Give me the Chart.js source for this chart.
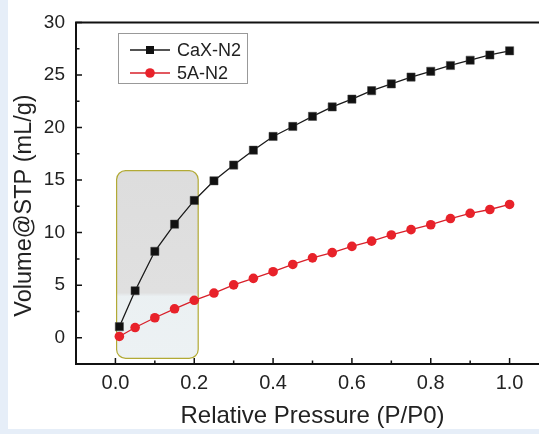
<!DOCTYPE html>
<html>
<head>
<meta charset="utf-8">
<script src="https://cdn.jsdelivr.net/npm/chart.js@4.4.1/dist/chart.umd.min.js"></script>
<style>
    html, body { margin: 0; padding: 0; overflow: hidden; background: #e6eef8; }
    #wrap { position: absolute; left: 8px; top: 0; right: 0; height: 429px; background: #ffffff; overflow: hidden; }
    #c { position: absolute; left: -8px; top: 0; }
</style>
</head>
<body>
<div id="wrap"><canvas id="c" width="560" height="434"></canvas></div>
<script>
const pressure = [0.01, 0.05, 0.10, 0.15, 0.20, 0.25, 0.30, 0.35, 0.40, 0.45, 0.50,
    0.55, 0.60, 0.65, 0.70, 0.75, 0.80, 0.85, 0.90, 0.95, 1.00];
const caxN2 = [1.05, 4.47, 8.22, 10.8, 13.06, 14.93, 16.43, 17.84, 19.15, 20.1, 21.06,
    21.96, 22.7, 23.5, 24.15, 24.8, 25.35, 25.9, 26.4, 26.9, 27.3];
const a5N2 = [0.12, 0.97, 1.9, 2.75, 3.56, 4.25, 5.03, 5.65, 6.28, 6.97, 7.6,
    8.1, 8.69, 9.19, 9.78, 10.28, 10.75, 11.34, 11.84, 12.2, 12.68];
const xTicks = [0.0, 0.2, 0.4, 0.6, 0.8, 1.0];
const yTicks = [0, 5, 10, 15, 20, 25, 30];
const xMinor = [0.1, 0.3, 0.5, 0.7, 0.9];
const yMinor = [2.5, 7.5, 12.5, 17.5, 22.5, 27.5];
// highlighted low-pressure region: [x0, x1, y0, y1]
const highlight = [0.003, 0.21, -1.97, 15.9];
const yTitle = 'Volume@STP (mL/g)';

const FONT = "'Liberation Sans', Arial, sans-serif";

const decorPlugin = {
    id: 'decor',
    beforeDatasetsDraw(chart) {
        const { ctx, scales: { x, y } } = chart;
        const x0 = x.getPixelForValue(highlight[0]);
        const x1 = x.getPixelForValue(highlight[1]);
        const y0 = y.getPixelForValue(highlight[3]);
        const y1 = y.getPixelForValue(highlight[2]);
        ctx.save();
        const g = ctx.createLinearGradient(0, y0, 0, y1);
        g.addColorStop(0, 'rgba(200,200,200,0.62)');
        g.addColorStop(0.65, 'rgba(205,205,205,0.62)');
        g.addColorStop(0.67, 'rgba(215,226,230,0.5)');
        g.addColorStop(1, 'rgba(218,228,232,0.5)');
        ctx.fillStyle = g;
        ctx.strokeStyle = '#b2aa35';
        ctx.lineWidth = 1.2;
        ctx.beginPath();
        ctx.roundRect(x0, y0, x1 - x0, y1 - y0, 9);
        ctx.fill();
        ctx.stroke();
        ctx.restore();
    },
    afterDraw(chart) {
        const { ctx, chartArea: a, scales: { x, y } } = chart;
        ctx.save();
        ctx.strokeStyle = '#111';
        // frame (right side falls outside the picture)
        ctx.lineWidth = 2;
        ctx.beginPath();
        ctx.moveTo(chart.width, a.top);
        ctx.lineTo(a.left, a.top);
        ctx.lineTo(a.left, a.bottom);
        ctx.lineTo(chart.width, a.bottom);
        ctx.stroke();
        // inward ticks
        ctx.lineWidth = 1.5;
        ctx.beginPath();
        xTicks.forEach(v => { const p = x.getPixelForValue(v); ctx.moveTo(p, a.bottom); ctx.lineTo(p, a.bottom - 6); });
        xMinor.forEach(v => { const p = x.getPixelForValue(v); ctx.moveTo(p, a.bottom); ctx.lineTo(p, a.bottom - 3.5); });
        yTicks.forEach(v => { const p = y.getPixelForValue(v); ctx.moveTo(a.left, p); ctx.lineTo(a.left + 6, p); });
        yMinor.forEach(v => { const p = y.getPixelForValue(v); ctx.moveTo(a.left, p); ctx.lineTo(a.left + 3.5, p); });
        ctx.stroke();

        // y axis title, sits a bit below the axis centre like the original
        ctx.save();
        ctx.translate(25, 205.5);
        ctx.rotate(-Math.PI / 2);
        ctx.fillStyle = '#222';
        ctx.font = '23.5px ' + FONT;
        ctx.textAlign = 'center';
        ctx.textBaseline = 'middle';
        ctx.fillText(yTitle, 0, 0);
        ctx.restore();

        // legend box
        const lx = 118, ly = 33, lw = 129, lh = 50;
        ctx.fillStyle = '#fff';
        ctx.strokeStyle = '#999';
        ctx.lineWidth = 1;
        ctx.fillRect(lx, ly, lw, lh);
        ctx.strokeRect(lx + 0.5, ly + 0.5, lw, lh);
        ctx.font = '18px ' + FONT;
        ctx.textBaseline = 'middle';
        chart.data.datasets.forEach((ds, i) => {
            const yy = ly + 17 + i * 23;
            ctx.strokeStyle = ds.borderColor;
            ctx.lineWidth = 1.3;
            ctx.beginPath();
            ctx.moveTo(lx + 12, yy);
            ctx.lineTo(lx + 52, yy);
            ctx.stroke();
            ctx.fillStyle = ds.pointBackgroundColor;
            if (ds.pointStyle === 'rect') {
                ctx.fillRect(lx + 28, yy - 4, 8, 8);
            } else {
                ctx.beginPath();
                ctx.arc(lx + 32, yy, 4.8, 0, Math.PI * 2);
                ctx.fill();
            }
            ctx.fillStyle = '#222';
            ctx.fillText(ds.label, lx + 59, yy + 1);
        });
        ctx.restore();
    }
};

function initChart() {
    const ctx = document.getElementById('c').getContext('2d');
    new Chart(ctx, {
        type: 'line',
        data: {
            datasets: [{
                label: 'CaX-N2',
                data: pressure.map((p, i) => ({ x: p, y: caxN2[i] })),
                borderColor: '#1a1a1a',
                backgroundColor: '#111',
                pointBackgroundColor: '#111',
                pointBorderColor: '#444',
                pointBorderWidth: 0.5,
                pointStyle: 'rect',
                pointRadius: 5.8,
                borderWidth: 1.3,
                tension: 0
            }, {
                label: '5A-N2',
                data: pressure.map((p, i) => ({ x: p, y: a5N2[i] })),
                borderColor: '#d8202a',
                backgroundColor: '#e8222a',
                pointBackgroundColor: '#e8222a',
                pointBorderColor: '#e8222a',
                pointBorderWidth: 0,
                pointStyle: 'circle',
                pointRadius: 4.8,
                borderWidth: 1.3,
                tension: 0
            }]
        },
        options: {
            responsive: false,
            animation: false,
            layout: { padding: { left: 0, right: 11, top: 17, bottom: 0 } },
            plugins: { legend: { display: false }, tooltip: { enabled: false } },
            scales: {
                x: {
                    type: 'linear',
                    min: -0.1,
                    max: 1.1,
                    afterBuildTicks: s => { s.ticks = xTicks.map(v => ({ value: v })); },
                    afterFit: s => { s.height = 70; },
                    grid: { display: false, drawTicks: false },
                    border: { display: false },
                    ticks: {
                        color: '#222',
                        padding: 7,
                        font: { family: FONT, size: 20 },
                        callback: v => v.toFixed(1)
                    },
                    title: {
                        display: true,
                        text: 'Relative Pressure (P/P0)',
                        color: '#222',
                        font: { family: FONT, size: 24 },
                        padding: { top: 0, bottom: 3 }
                    }
                },
                y: {
                    min: -2.5,
                    max: 30,
                    afterBuildTicks: s => { s.ticks = yTicks.map(v => ({ value: v })); },
                    afterFit: s => { s.width = 76; },
                    grid: { display: false, drawTicks: false },
                    border: { display: false },
                    ticks: {
                        color: '#222',
                        padding: 11,
                        font: { family: FONT, size: 19 }
                    }
                }
            }
        },
        plugins: [decorPlugin]
    });
}

initChart();
</script>
</body>
</html>
